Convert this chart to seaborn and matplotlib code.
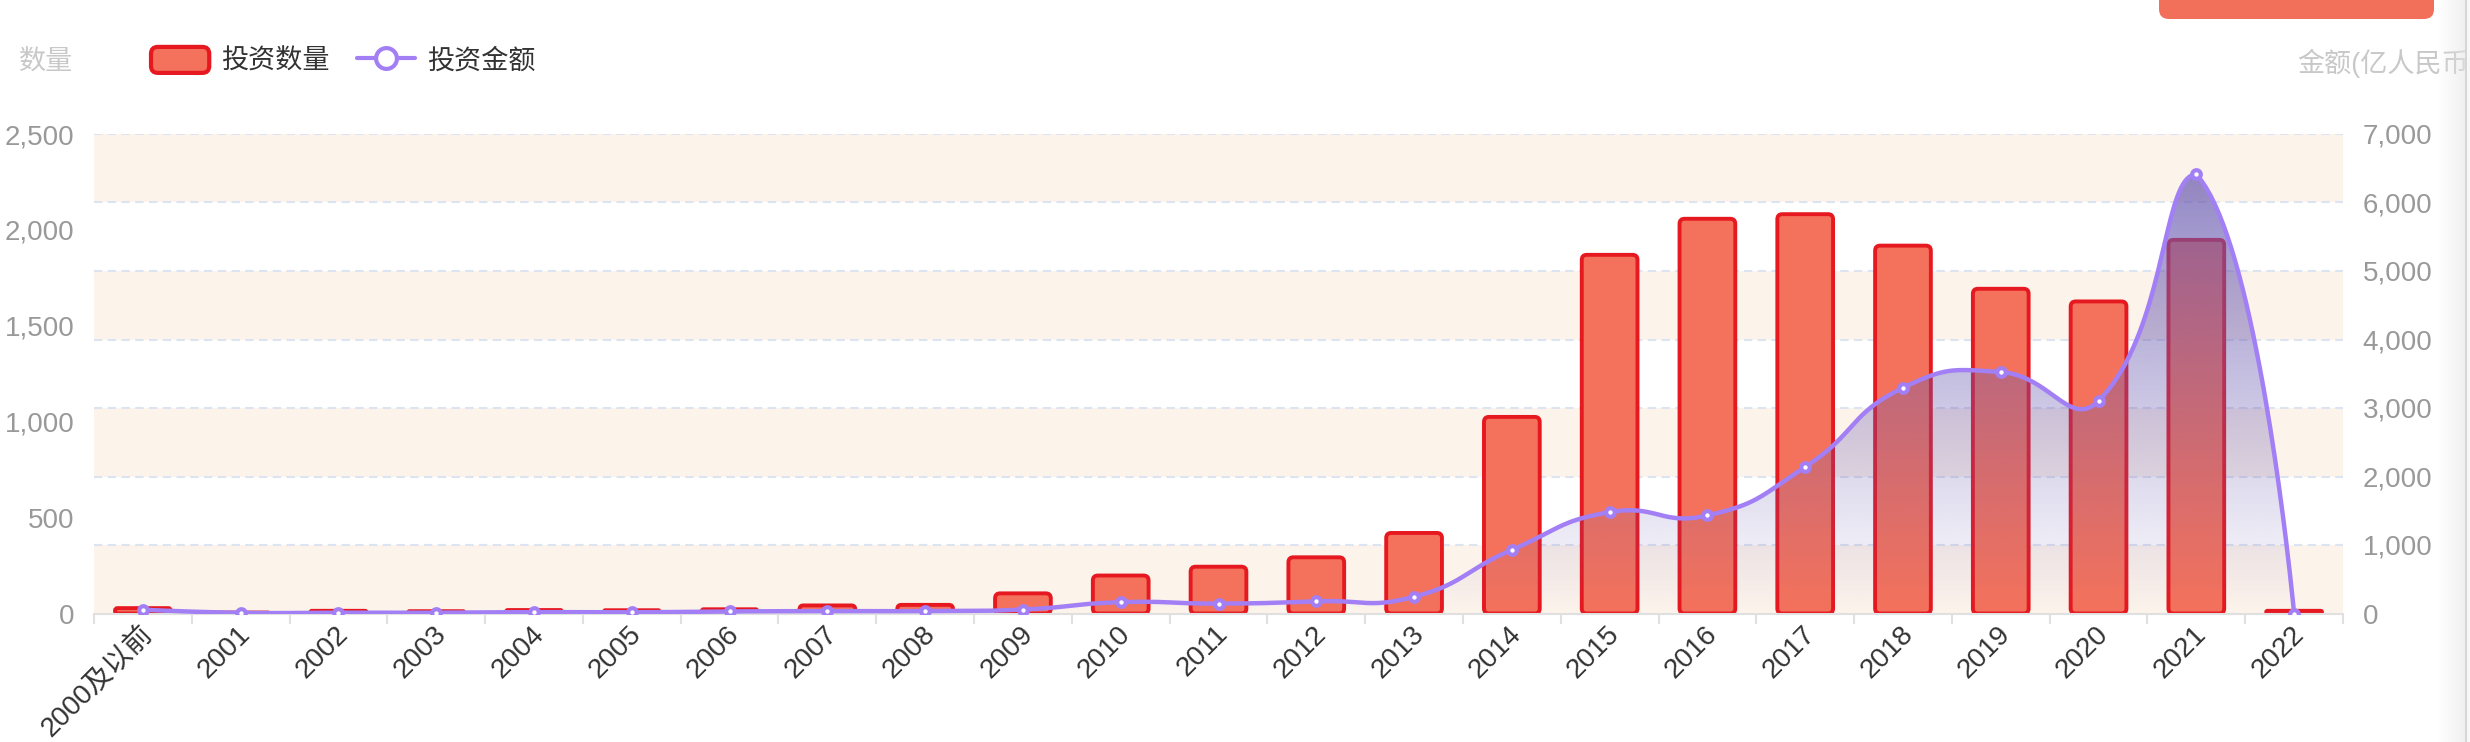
import numpy as np
import pandas as pd
import matplotlib
matplotlib.use("Agg")
import matplotlib.pyplot as plt
import seaborn as sns
import matplotlib.transforms as mtransforms
from matplotlib.patches import FancyBboxPatch, Rectangle, PathPatch, Patch
from matplotlib.path import Path
from matplotlib.lines import Line2D
from matplotlib.legend_handler import HandlerPatch
from matplotlib.ticker import FixedLocator, FuncFormatter

# ---------------- data ----------------
categories = ["2000及以前", "2001", "2002", "2003", "2004", "2005", "2006", "2007",
              "2008", "2009", "2010", "2011", "2012", "2013", "2014", "2015",
              "2016", "2017", "2018", "2019", "2020", "2021", "2022"]
counts = [28, 5, 14, 12, 18, 17, 22, 42, 45, 105, 198, 244, 293, 420,
          1025, 1870, 2058, 2082, 1918, 1693, 1627, 1948, 14]
amounts = [55, 10, 12, 12, 20, 18, 30, 35, 36, 58, 165, 145, 178, 245,
           930, 1480, 1431, 2140, 3295, 3525, 3105, 6410, 0]
count_ticks = [0, 500, 1000, 1500, 2000, 2500]
amount_ticks = [0, 1000, 2000, 3000, 4000, 5000, 6000, 7000]
legend_labels = ["投资数量", "投资金额"]
left_title = "数量"
right_title = "金额(亿人民币)"

# ---------------- style ----------------
BAR = "#F4725C"
EDGE = "#E61820"
PURPLE = "#A37FF5"
AREA_RGB = (105 / 255, 90 / 255, 176 / 255)
BAND = "#FCF3EB"
GRID = "#DCE3F1"
AXIS = "#E0E0E0"
TICKTXT = "#999999"
XTXT = "#333333"

sns.set_theme(style="white")
plt.rcParams["font.family"] = ["Liberation Sans", "Noto Sans CJK SC", "DejaVu Sans"]

W, H = 2470, 742
fig = plt.figure(figsize=(W / 100, H / 100), dpi=100)
L, R, B, T = 94, 2343, 613.5, 134
ax = fig.add_axes([L / W, 1 - B / H, (R - L) / W, (B - T) / H])
ax2 = ax.twinx()

df = pd.DataFrame({"cat": categories, "count": counts, "amount": amounts})

sns.barplot(data=df, x="cat", y="count", ax=ax, color=BAR, saturation=1,
            width=0.57, edgecolor=EDGE, linewidth=2.8, zorder=2)

n = len(categories)
ax.set_xlim(-0.5, n - 0.5)
ax.set_ylim(0, count_ticks[-1])
ax2.set_ylim(0, amount_ticks[-1])
ax2.set_xlim(-0.5, n - 0.5)

# rounded bars
p00 = ax.transData.transform((0, 0))
px_per_x = ax.transData.transform((1, 0))[0] - p00[0]
px_per_y = ax.transData.transform((0, 1))[1] - p00[1]
asp = px_per_x / px_per_y
r_x = 5.0 / px_per_x
for p in list(ax.patches):
    x0, w, h = p.get_x(), p.get_width(), p.get_height()
    p.remove()
    r = max(min(r_x, w / 2, (h / asp) / 2 * 0.95), 1e-6)
    fb = FancyBboxPatch((x0, 0), w, h, boxstyle=f"round,pad=0,rounding_size={r}",
                        mutation_aspect=asp, facecolor=BAR, edgecolor=EDGE,
                        linewidth=2.8, zorder=2)
    ax.add_patch(fb)

# bands and grid (aligned to right axis ticks)
blend = mtransforms.blended_transform_factory(ax.transAxes, ax2.transData)
for i in range(len(amount_ticks) - 1):
    if i % 2 == 0:
        ax.add_patch(Rectangle((0, amount_ticks[i]), 1, amount_ticks[i + 1] - amount_ticks[i],
                               transform=blend, facecolor=BAND, edgecolor="none", zorder=0))
for v in amount_ticks[1:]:
    ax.plot([0, 1], [v, v], transform=blend, color=GRID, lw=1.5,
            ls=(0, (4, 2.6)), zorder=0.5)

# smoothed line (echarts-like bezier with bbox constraint) in pixel space
xs = np.arange(n, dtype=float)
pts = ax2.transData.transform(np.column_stack([xs, amounts]))
mn, mx = pts.min(0), pts.max(0)
cps = []
for i in range(n):
    p = pts[i]
    if i == 0 or i == n - 1:
        cps.append(p.copy())
        continue
    prev, nxt = pts[i - 1], pts[i + 1]
    v = (nxt - prev) * 0.5
    d0 = np.hypot(*(p - prev))
    d1 = np.hypot(*(p - nxt))
    s = d0 + d1
    if s:
        d0 /= s
        d1 /= s
    cps.append(np.clip(p - v * d0, mn, mx))
    cps.append(np.clip(p + v * d1, mn, mx))
curve = [pts[0]]
tt = np.linspace(0, 1, 40)[1:, None]
for i in range(n - 1):
    P0, C0, C1, P1 = pts[i], cps[2 * i], cps[2 * i + 1], pts[i + 1]
    seg = ((1 - tt) ** 3) * P0 + 3 * ((1 - tt) ** 2) * tt * C0 + 3 * (1 - tt) * tt ** 2 * C1 + tt ** 3 * P1
    curve.extend(seg)
curve = np.array(curve)
cd = ax2.transData.inverted().transform(curve)
xd, yd = cd[:, 0], cd[:, 1]

# gradient area
poly = np.vstack([cd, [[xd[-1], 0], [xd[0], 0]]])
clip = PathPatch(Path(poly), facecolor="none", edgecolor="none")
ax2.add_patch(clip)
grad = np.zeros((256, 1, 4))
grad[:, 0, :3] = AREA_RGB
grad[:, 0, 3] = np.linspace(0.0, 0.72, 256)
im = ax2.imshow(grad, extent=[xd.min(), xd.max(), 0, yd.max()], origin="lower",
                aspect="auto", interpolation="bilinear", zorder=1)
im.set_clip_path(clip)

ax2.plot(xd, yd, color=PURPLE, lw=3.2, zorder=3, solid_capstyle="round")
ax2.plot(xs, amounts, ls="none", marker="o", ms=6.2, mfc="white", mec=PURPLE,
         mew=3.0, zorder=4)
ax2.set_xlim(-0.5, n - 0.5)
ax2.set_ylim(0, amount_ticks[-1])

# axes styling
for a in (ax, ax2):
    for s in a.spines.values():
        s.set_visible(False)
ax.spines["bottom"].set_visible(True)
ax.spines["bottom"].set_color(AXIS)
ax.spines["bottom"].set_linewidth(1.5)
ax.set_xlabel("")
ax.set_ylabel("")
ax2.set_ylabel("")
ax.grid(False)
ax2.grid(False)

ax.yaxis.set_major_locator(FixedLocator(count_ticks))
ax.yaxis.set_major_formatter(FuncFormatter(lambda v, p: f"{int(v):,}"))
ax2.yaxis.set_major_locator(FixedLocator(amount_ticks))
ax2.yaxis.set_major_formatter(FuncFormatter(lambda v, p: f"{int(v):,}"))
ax.tick_params(axis="y", length=0, pad=14, labelsize=20, labelcolor=TICKTXT)
ax2.tick_params(axis="y", length=0, pad=14, labelsize=20, labelcolor=TICKTXT)

ax.set_xticks(range(n))
ax.set_xticklabels(categories)
ax.set_xticks(np.arange(-0.5, n, 1.0), minor=True)
ax.tick_params(axis="x", which="major", length=0, pad=12, labelsize=20, labelcolor=XTXT)
ax.tick_params(axis="x", which="minor", length=7, width=1.5, color=AXIS, bottom=True)
offset = mtransforms.ScaledTranslation(6 / 100, 0, fig.dpi_scale_trans)
for lab in ax.get_xticklabels():
    lab.set_rotation(45)
    lab.set_ha("right")
    lab.set_va("center")
    lab.set_rotation_mode("anchor")
    lab.set_transform(lab.get_transform() + offset)
ax2.tick_params(axis="x", which="both", length=0, labelbottom=False)

# titles
fig.text(19 / W, 1 - 63 / H, left_title, color="#C8C8C8", fontsize=19.5, va="center", ha="left")
fig.text(2297 / W, 1 - 63 / H, right_title, color="#C8C8C8", fontsize=19.5, va="center", ha="left")

# legend
def rounded_patch(legend, orig_handle, xdescent, ydescent, width, height, fontsize):
    return FancyBboxPatch((-xdescent, -ydescent), width, height,
                          boxstyle="round,pad=0,rounding_size=5")

bar_handle = Patch(facecolor=BAR, edgecolor=EDGE, linewidth=3)
line_handle = Line2D([], [], color=PURPLE, lw=3, marker="o", ms=15,
                     mfc="white", mec=PURPLE, mew=3)
fig.legend([bar_handle, line_handle], legend_labels, loc="center left",
           bbox_to_anchor=(151 / W, 1 - 61 / H), ncol=2, frameon=False,
           fontsize=19.5, handlelength=2.15, handleheight=1.1, handletextpad=0.45,
           columnspacing=1.0, borderpad=0, borderaxespad=0, labelcolor=XTXT,
           handler_map={Patch: HandlerPatch(patch_func=rounded_patch)})

# top-right button (cut off at top edge)
fig.add_artist(FancyBboxPatch((2159 / W, 1 - 19 / H), 275 / W, 40 / H,
                              boxstyle="round,pad=0,rounding_size=0.004",
                              mutation_aspect=W / H,
                              transform=fig.transFigure,
                              facecolor="#F2705A", edgecolor="none"))

# translucent scrollbar strip at right edge
sax = fig.add_axes([2437 / W, 0, 33 / W, 1], zorder=10)
sax.patch.set_alpha(0)
strip = np.zeros((1, 33, 4))
strip[0, :, :3] = 0.90
strip[0, :28, 3] = np.linspace(0.0, 0.55, 28)
strip[0, 28:30, :3] = 0.84
strip[0, 28:30, 3] = 1.0
strip[0, 30:, :3] = 0.97
strip[0, 30:, 3] = 1.0
sax.imshow(strip, aspect="auto", extent=[0, 1, 0, 1])
sax.set_axis_off()

fig.savefig("out.png", dpi=100)
